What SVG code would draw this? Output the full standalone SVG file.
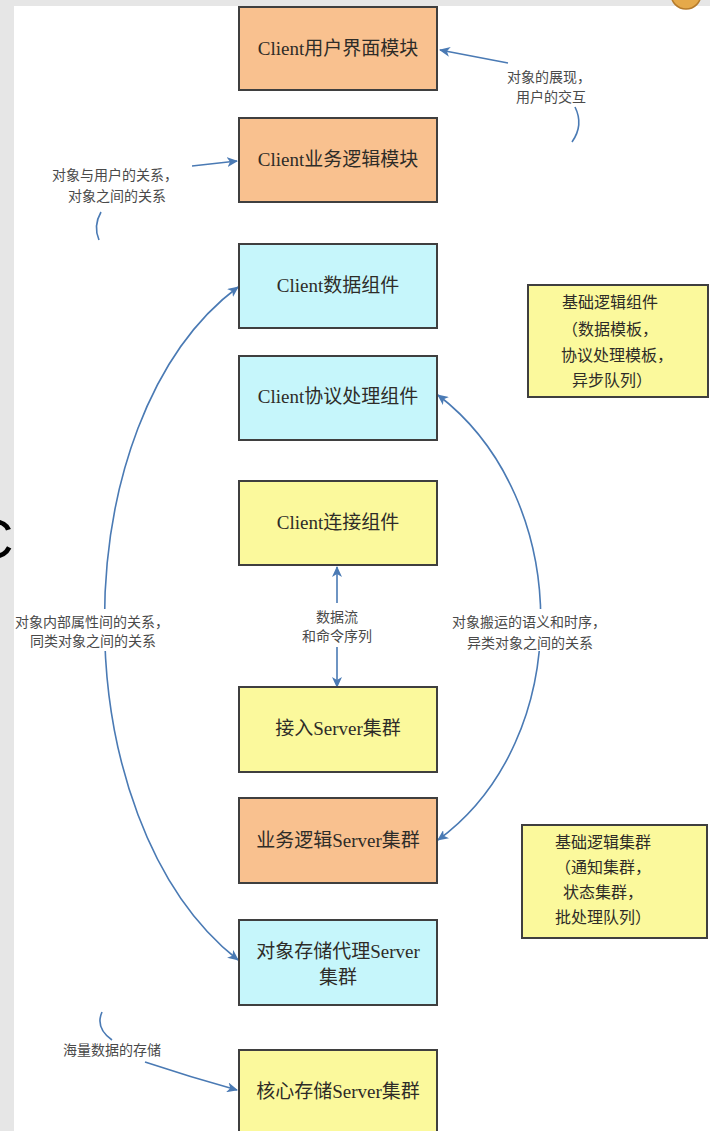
<svg xmlns="http://www.w3.org/2000/svg" width="710" height="1131" viewBox="0 0 710 1131">
<defs>
<marker id="ah" markerUnits="userSpaceOnUse" markerWidth="11" markerHeight="10" refX="10" refY="5" orient="auto-start-reverse" viewBox="0 0 11 10">
<path d="M0,0 L11,5 L0,10 L3,5 z" fill="#4a7ab4"/>
</marker>
</defs>
<style>
.box{stroke:#3f3f3f;stroke-width:2}
.o{fill:#f9c18f}
.c{fill:#c6f6fb}
.y{fill:#fbf99c}
.lbl{font-family:"Liberation Serif","Noto Sans CJK SC",serif;font-size:19px;fill:#2e2c28;text-anchor:middle}
.ann{font-family:"Liberation Serif","Noto Sans CJK SC",serif;font-size:14px;fill:#4a4a4a}
.side{font-family:"Liberation Serif","Noto Sans CJK SC",serif;font-size:16px;fill:#2e2c28;text-anchor:middle}
.con{fill:none;stroke:#4a7ab4;stroke-width:1.6}
</style>
<rect x="0" y="0" width="710" height="1131" fill="#e6e6e6"/>
<rect x="14" y="6" width="696" height="1125" fill="#ffffff"/>
<circle cx="686" cy="-6" r="15" fill="#e5a94a" stroke="#b57a2a" stroke-width="1.5"/>
<text x="-27" y="558" font-family="Liberation Sans, sans-serif" font-size="56" fill="#000">C</text>

<g id="connectors">
<path class="con" d="M 508 63 L 440 50" marker-end="url(#ah)"/>
<path class="con" d="M 575 107 Q 584 125 572 142"/>
<path class="con" d="M 192 166 L 237 161" marker-end="url(#ah)"/>
<path class="con" d="M 101 212 Q 93 226 99 240"/>
<path class="con" d="M 238 287 C 60 420, 60 820, 238 960" marker-start="url(#ah)" marker-end="url(#ah)"/>
<path class="con" d="M 438 395 C 575 500, 575 740, 438 840" marker-start="url(#ah)" marker-end="url(#ah)"/>
<path class="con" d="M 337 567 L 337 687" marker-start="url(#ah)" marker-end="url(#ah)"/>
<path class="con" d="M 102 1012 Q 95 1028 112 1040"/>
<path class="con" d="M 145 1062 Q 190 1077 237 1090" marker-end="url(#ah)"/>
</g>

<g id="label-top-right">
<text class="ann" x="507" y="82">对象的展现，</text>
<text class="ann" x="516" y="102">用户的交互</text>
</g>
<g id="label-top-left">
<text class="ann" x="52" y="180">对象与用户的关系，</text>
<text class="ann" x="68" y="201">对象之间的关系</text>
</g>
<g id="label-left-arc">
<rect x="14" y="609" width="175" height="42" fill="#ffffff"/>
<text class="ann" x="15" y="627">对象内部属性间的关系，</text>
<text class="ann" x="30" y="646">同类对象之间的关系</text>
</g>
<g id="label-right-arc">
<rect x="450" y="609" width="168" height="42" fill="#ffffff"/>
<text class="ann" x="452" y="627">对象搬运的语义和时序，</text>
<text class="ann" x="467" y="648">异类对象之间的关系</text>
</g>
<g id="label-flow">
<rect x="300" y="603" width="75" height="44" fill="#ffffff"/>
<text class="ann" x="337" y="622" text-anchor="middle">数据流</text>
<text class="ann" x="337" y="641" text-anchor="middle">和命令序列</text>
</g>
<g id="label-storage">
<text class="ann" x="63" y="1055">海量数据的存储</text>
</g>

<g id="n1"><rect class="box o" x="239" y="7" width="198" height="83"/><text class="lbl" x="338" y="55">Client用户界面模块</text></g>
<g id="n2"><rect class="box o" x="239" y="118" width="198" height="84"/><text class="lbl" x="338" y="166">Client业务逻辑模块</text></g>
<g id="n3"><rect class="box c" x="239" y="244" width="198" height="84"/><text class="lbl" x="338" y="292">Client数据组件</text></g>
<g id="n4"><rect class="box c" x="239" y="356" width="198" height="84"/><text class="lbl" x="338" y="403">Client协议处理组件</text></g>
<g id="n5"><rect class="box y" x="239" y="481" width="198" height="84"/><text class="lbl" x="338" y="529">Client连接组件</text></g>
<g id="n6"><rect class="box y" x="239" y="687" width="198" height="85"/><text class="lbl" x="338" y="735">接入Server集群</text></g>
<g id="n7"><rect class="box o" x="239" y="798" width="198" height="85"/><text class="lbl" x="338" y="847">业务逻辑Server集群</text></g>
<g id="n8"><rect class="box c" x="239" y="920" width="198" height="85"/><text class="lbl" x="338" y="958">对象存储代理Server</text><text class="lbl" x="338" y="984">集群</text></g>
<g id="n9"><rect class="box y" x="239" y="1050" width="198" height="84"/><text class="lbl" x="338" y="1098">核心存储Server集群</text></g>

<g id="side1"><rect class="box y" x="528" y="285" width="180" height="112"/>
<text class="side" x="610" y="308">基础逻辑组件</text>
<text class="side" x="610" y="335">（数据模板，</text>
<text class="side" x="617" y="361">协议处理模板，</text>
<text class="side" x="612" y="386">异步队列）</text>
</g>
<g id="side2"><rect class="box y" x="522" y="825" width="185" height="113"/>
<text class="side" x="603" y="848">基础逻辑集群</text>
<text class="side" x="603" y="873">（通知集群，</text>
<text class="side" x="603" y="898">状态集群，</text>
<text class="side" x="603" y="923">批处理队列）</text>
</g>
</svg>
